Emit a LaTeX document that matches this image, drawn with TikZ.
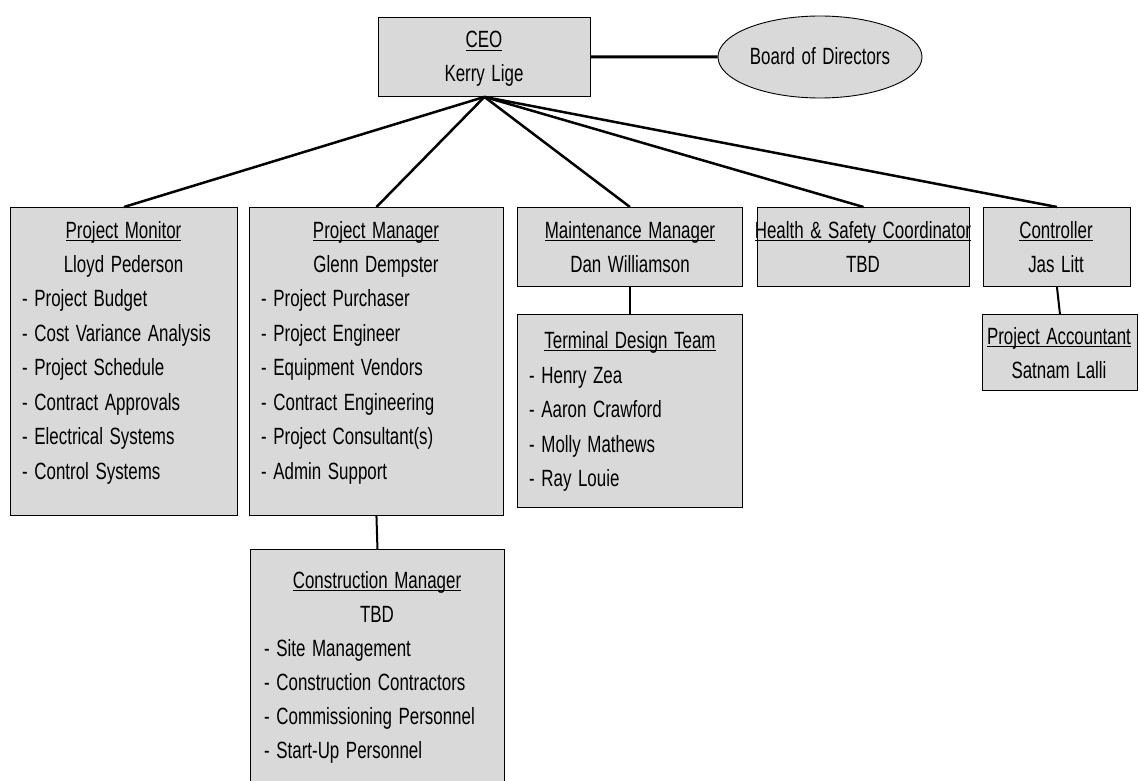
\documentclass[tikz,border=0pt]{standalone}
\usepackage{fontspec}
\setmainfont{Liberation Sans}[FakeStretch=0.72,WordSpace=1.4]
\usetikzlibrary{shapes.geometric}
\definecolor{boxgray}{RGB}{217,217,217}
\newcommand\ttl[1]{\setbox0\hbox{#1}\rlap{\rule[-3.4pt]{\wd0}{1.1pt}}\box0}
\begin{document}
\begin{tikzpicture}[x=1pt,y=-1pt,
  box/.style={draw=black,line width=0.9pt,fill=boxgray,anchor=north west,inner sep=0pt},
  txt/.style={anchor=base,inner sep=0pt,font=\fontsize{23.5pt}{34pt}\selectfont},
  itm/.style={anchor=base west,inner sep=0pt,font=\fontsize{23.5pt}{34pt}\selectfont},
  conn/.style={draw=black,line width=2.5pt},
  sub/.style={draw=black,line width=2pt}]
\useasboundingbox (0,0) rectangle (1140,781);
\clip (0,0) rectangle (1140,781);
\fill[white] (0,0) rectangle (1140,781);

% boxes
\node[box,minimum width=212pt,minimum height=79pt] (ceo) at (378,17) {};
\node[draw=black,line width=0.9pt,fill=boxgray,ellipse,inner sep=0pt,minimum width=204pt,minimum height=82pt] (board) at (820,57) {};
\node[box,minimum width=227pt,minimum height=308pt] (pmon) at (10,207) {};
\node[box,minimum width=254pt,minimum height=308pt] (pmgr) at (249,207) {};
\node[box,minimum width=225pt,minimum height=79pt] (maint) at (517,207) {};
\node[box,minimum width=212pt,minimum height=79pt] (hs) at (757,207) {};
\node[box,minimum width=147pt,minimum height=79pt] (ctrl) at (983,207) {};
\node[box,minimum width=225pt,minimum height=193pt] (term) at (517,314) {};
\node[box,minimum width=155pt,minimum height=76pt] (acct) at (982,314) {};
\node[box,minimum width=254pt,minimum height=260pt] (constr) at (250,549) {};

% connectors
\draw[line width=3pt] (ceo.east) -- (board.west);
\draw[conn] (ceo.south) -- (pmon.north);
\draw[conn] (ceo.south) -- (pmgr.north);
\draw[conn] (ceo.south) -- (maint.north);
\draw[conn] (ceo.south) -- (hs.north);
\draw[conn] (ceo.south) -- (ctrl.north);
\draw[sub] (pmgr.south) -- (constr.north);
\draw[sub] (maint.south) -- (term.north);
\draw[sub] (ctrl.south) -- (acct.north);

% texts
\node[txt] (ceo1) at (484,48) {\ttl{CEO}};
\node[txt] (ceo2) at (484,82) {Kerry Lige};
\node[txt] (bd1) at (820,65) {Board of Directors};

\node[txt] (pmon1) at (123.5,238) {\ttl{Project Monitor}};
\node[txt] (pmon2) at (123.5,272) {Lloyd Pederson};
\node[itm] (pmon3) at (22,306) {- Project Budget};
\node[itm] (pmon4) at (22,341) {- Cost Variance Analysis};
\node[itm] (pmon5) at (22,375) {- Project Schedule};
\node[itm] (pmon6) at (22,410) {- Contract Approvals};
\node[itm] (pmon7) at (22,444) {- Electrical Systems};
\node[itm] (pmon8) at (22,479) {- Control Systems};

\node[txt] (pmgr1) at (376,238) {\ttl{Project Manager}};
\node[txt] (pmgr2) at (376,272) {Glenn Dempster};
\node[itm] (pmgr3) at (261,306) {- Project Purchaser};
\node[itm] (pmgr4) at (261,341) {- Project Engineer};
\node[itm] (pmgr5) at (261,375) {- Equipment Vendors};
\node[itm] (pmgr6) at (261,410) {- Contract Engineering};
\node[itm] (pmgr7) at (261,444) {- Project Consultant(s)};
\node[itm] (pmgr8) at (261,479) {- Admin Support};

\node[txt] (mm1) at (630,238) {\ttl{Maintenance Manager}};
\node[txt] (mm2) at (630,272) {Dan Williamson};

\node[txt] (hs1) at (863,238) {\ttl{Health \& Safety Coordinator}};
\node[txt] (hs2) at (863,272) {TBD};

\node[txt] (ct1) at (1056,238) {\ttl{Controller}};
\node[txt] (ct2) at (1056,272) {Jas Litt};

\node[txt] (td1) at (630,348) {\ttl{Terminal Design Team}};
\node[itm] (td2) at (529,383) {- Henry Zea};
\node[itm] (td3) at (529,417) {- Aaron Crawford};
\node[itm] (td4) at (529,452) {- Molly Mathews};
\node[itm] (td5) at (529,486) {- Ray Louie};

\node[txt] (pa1) at (1059,344) {\ttl{Project Accountant}};
\node[txt] (pa2) at (1059,378) {Satnam Lalli};

\node[txt] (cm1) at (377,588) {\ttl{Construction Manager}};
\node[txt] (cm2) at (377,622) {TBD};
\node[itm] (cm3) at (264,656) {- Site Management};
\node[itm] (cm4) at (264,690) {- Construction Contractors};
\node[itm] (cm5) at (264,724) {- Commissioning Personnel};
\node[itm] (cm6) at (264,758) {- Start-Up Personnel};
\end{tikzpicture}
\end{document}
